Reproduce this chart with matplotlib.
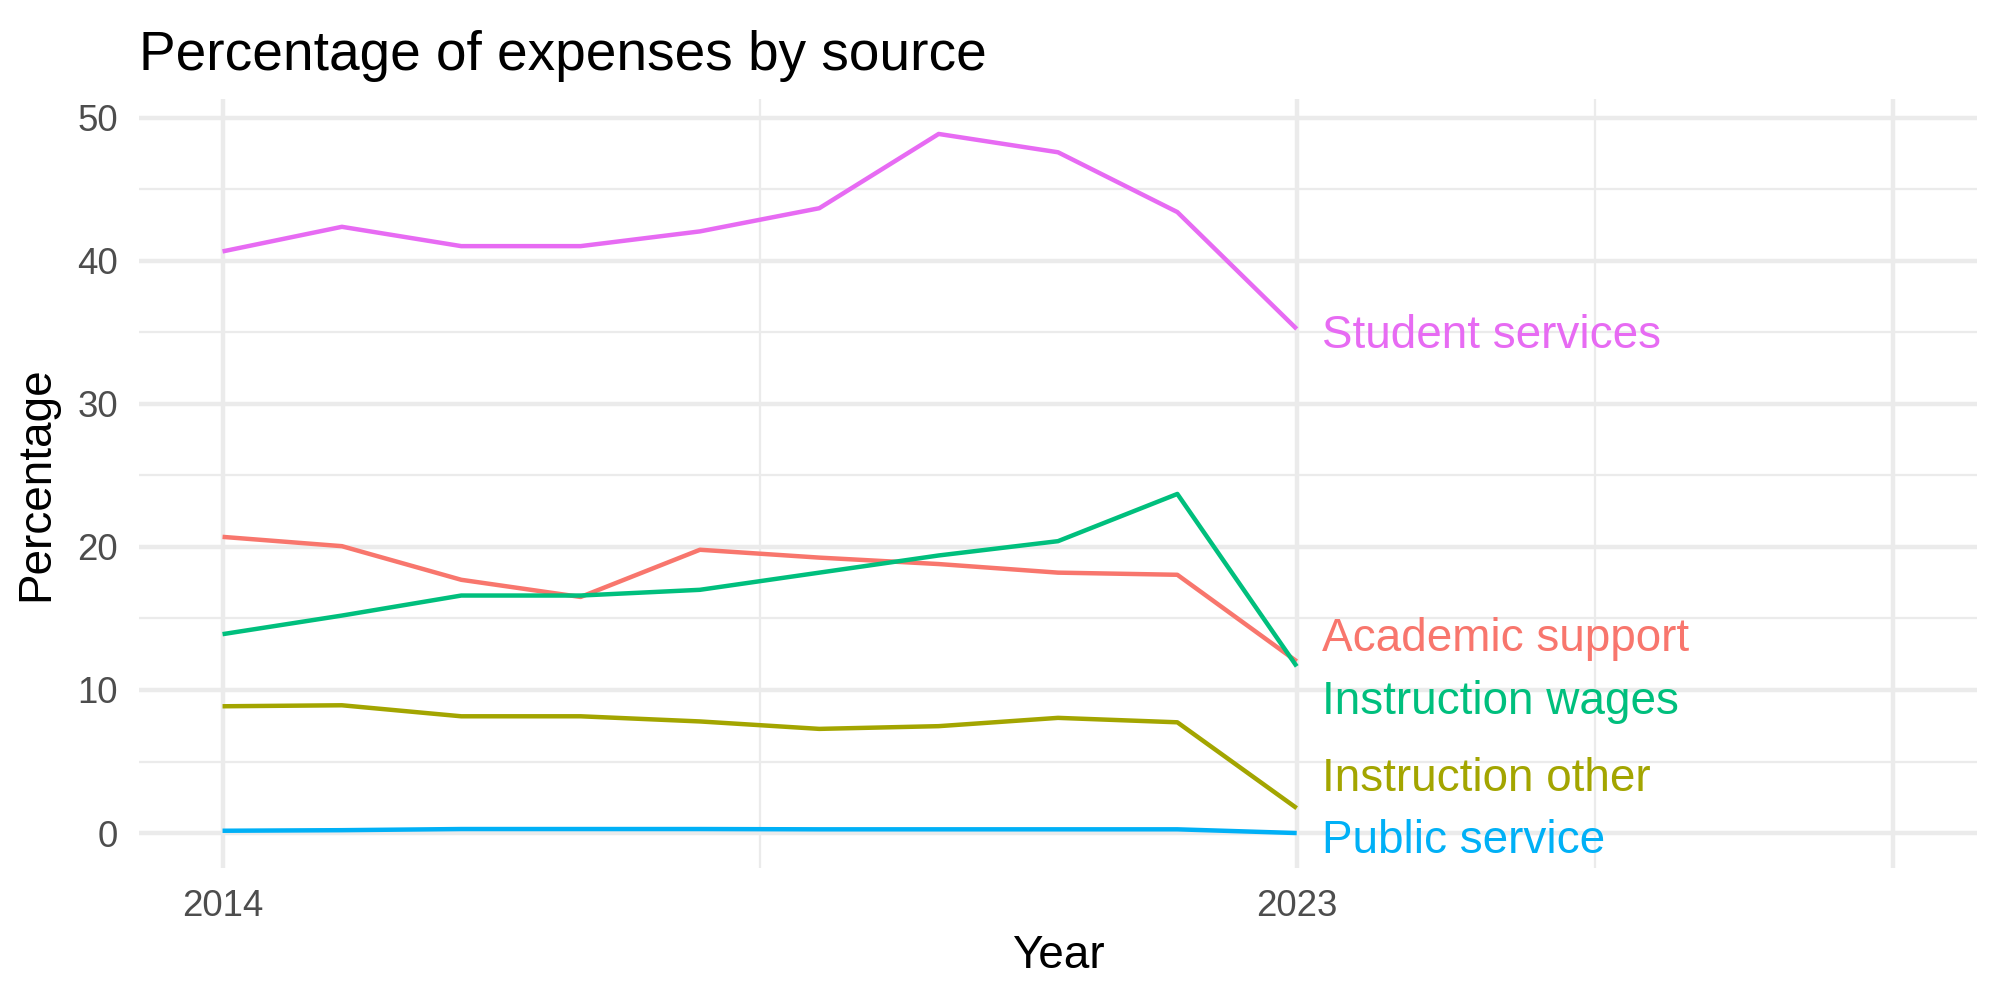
import numpy as np
import matplotlib
matplotlib.use("Agg")
import matplotlib.pyplot as plt

plt.rcParams['font.family'] = ['Liberation Sans', 'DejaVu Sans']

# data
years = [2014, 2015, 2016, 2017, 2018, 2019, 2020, 2021, 2022, 2023]
academic_support = [20.7, 20.05, 17.7, 16.5, 19.8, 19.25, 18.8, 18.2, 18.05, 12.0]
instruction_other = [8.86, 8.93, 8.16, 8.16, 7.8, 7.28, 7.47, 8.05, 7.74, 1.74]
instruction_wages = [13.9, 15.2, 16.6, 16.6, 17.0, 18.2, 19.4, 20.4, 23.7, 11.65]
public_service = [0.16, 0.2, 0.28, 0.28, 0.28, 0.26, 0.26, 0.26, 0.26, 0.0]
student_services = [40.65, 42.37, 41.02, 41.02, 42.05, 43.67, 48.86, 47.58, 43.4, 35.23]

sources = ['Academic support', 'Instruction other', 'Instruction wages',
           'Public service', 'Student services']
series = [academic_support, instruction_other, instruction_wages,
          public_service, student_services]
colors = ['#F8766D', '#A3A500', '#00BF7D', '#00B0F6', '#E76BF3']

# repelled label heights (layout only)
label_y = [13.9, 4.13, 9.5, -0.2, 35.1]

fig = plt.figure(figsize=(20/3, 10/3), dpi=300)
ax = fig.add_axes([0.0695, 0.132, 0.919, 0.769])

# grid like theme_minimal
grid = '#EBEBEB'
for v in [2014, 2023, 2028]:
    ax.axvline(v, color=grid, lw=1.07, zorder=0)
for v in [2018.5, 2025.5]:
    ax.axvline(v, color=grid, lw=0.53, zorder=0)
for v in range(0, 51, 10):
    ax.axhline(v, color=grid, lw=1.07, zorder=0)
for v in range(5, 50, 10):
    ax.axhline(v, color=grid, lw=0.53, zorder=0)

for name, vals, c, ly in zip(sources, series, colors, label_y):
    ax.plot(years, vals, color=c, lw=1.07, solid_capstyle='butt', zorder=2)
    ax.text(years[-1] + 0.21, ly, name, color=c, fontsize=11,
            ha='left', va='center_baseline', zorder=3)

ymax = 48.86
ax.set_xlim(2014 - 0.7, 2028 + 0.7)
ax.set_ylim(-0.05 * ymax, ymax * 1.05)
ax.set_xticks([2014, 2023])
ax.set_xticklabels(['2014', '2023'])
ax.set_yticks(range(0, 51, 10))
ax.tick_params(length=0, pad=5, labelsize=8.8, labelcolor='#4D4D4D')
for s in ax.spines.values():
    s.set_visible(False)

ax.set_xlabel('Year', fontsize=11, labelpad=2.5)
ax.set_ylabel('Percentage', fontsize=11, labelpad=4.5)
ax.set_title('Percentage of expenses by source', fontsize=13.2, loc='left', pad=7)

fig.savefig('out.png', dpi=300)
